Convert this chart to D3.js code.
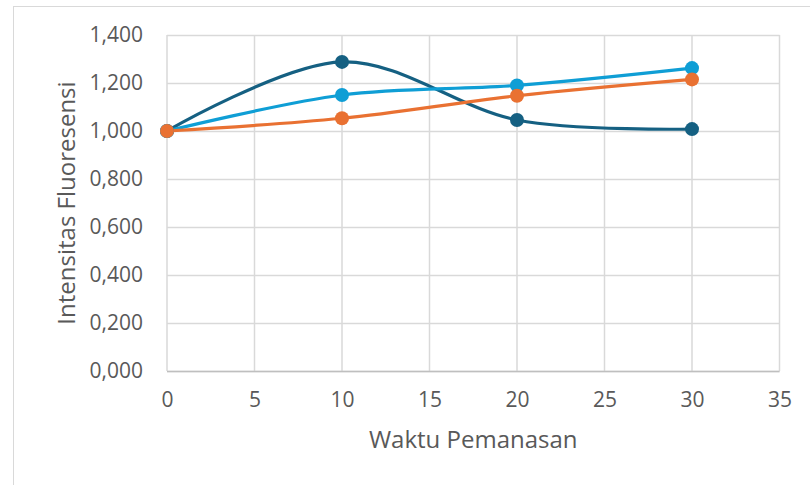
<!DOCTYPE html>
<html>
<head>
<meta charset="utf-8">
<script src="https://cdn.jsdelivr.net/npm/d3@7"></script>
<style>
  body { margin: 0; background: #fff; }
  svg { display: block; }
</style>
</head>
<body>
<div id="chart-area"></div>
<script>
const WIDTH = 810
const HEIGHT = 485
const MARGIN = { LEFT: 167, RIGHT: 30.5, TOP: 35, BOTTOM: 114 }
const PW = WIDTH - MARGIN.LEFT - MARGIN.RIGHT
const PH = HEIGHT - MARGIN.TOP - MARGIN.BOTTOM

// data
const waktu = [0, 10, 20, 30]
const seriesA = [1.000, 1.288, 1.046, 1.008]   // dark blue
const seriesB = [1.000, 1.150, 1.190, 1.262]   // light blue
const seriesC = [1.000, 1.053, 1.147, 1.215]   // orange
const xTicks = [0, 5, 10, 15, 20, 25, 30, 35]
const yTicks = [0, 0.2, 0.4, 0.6, 0.8, 1.0, 1.2, 1.4]

const series = [
  { values: seriesA, color: "#156082" },
  { values: seriesB, color: "#0F9ED5" },
  { values: seriesC, color: "#E97132" }
]

const FONT = "'Open Sans', sans-serif"
const TEXT = "#595959"
const GRID = "#d9d9d9"

const svg = d3.select("#chart-area").append("svg")
  .attr("width", WIDTH)
  .attr("height", HEIGHT)

// chart frame (runs past the right/bottom edges)
svg.append("rect")
  .attr("x", 13.5).attr("y", 6.5)
  .attr("width", 900).attr("height", 600)
  .attr("fill", "none")
  .attr("stroke", GRID)

const g = svg.append("g")
  .attr("transform", `translate(${MARGIN.LEFT}, ${MARGIN.TOP})`)

const x = d3.scaleLinear().domain([0, 35]).range([0, PW])
const y = d3.scaleLinear().domain([0, 1.4]).range([PH, 0])

// gridlines
g.append("g")
  .selectAll("line.h")
  .data(yTicks)
  .enter().append("line")
    .attr("x1", 0).attr("x2", PW)
    .attr("y1", d => Math.round(y(d)) + 0.5)
    .attr("y2", d => Math.round(y(d)) + 0.5)
    .attr("stroke", GRID).attr("stroke-width", 1.5)

g.append("g")
  .selectAll("line.v")
  .data(xTicks)
  .enter().append("line")
    .attr("x1", d => x(d)).attr("x2", d => x(d))
    .attr("y1", 0).attr("y2", PH)
    .attr("stroke", GRID).attr("stroke-width", 1.5)

// bottom axis line
g.append("line")
  .attr("x1", 0).attr("x2", PW)
  .attr("y1", PH + 0.5).attr("y2", PH + 0.5)
  .attr("stroke", "#bfbfbf").attr("stroke-width", 1.5)

// axes (labels only)
const xAxisCall = d3.axisBottom(x).tickValues(xTicks).tickSize(0).tickPadding(21)
  .tickFormat(d3.format("d"))
const xAxisGroup = g.append("g")
  .attr("transform", `translate(0, ${PH})`)
  .call(xAxisCall)

const yAxisCall = d3.axisLeft(y).tickValues(yTicks).tickSize(0).tickPadding(24)
  .tickFormat(d => d3.format(",.3f")(d).replace(".", ","))
const yAxisGroup = g.append("g").call(yAxisCall)

for (const ax of [xAxisGroup, yAxisGroup]) {
  ax.select(".domain").remove()
  ax.selectAll("text")
    .attr("font-family", FONT)
    .attr("font-size", "21px")
    .attr("fill", TEXT)
}

// axis titles
g.append("text")
  .attr("x", x(17.5)).attr("y", PH + 77)
  .attr("text-anchor", "middle")
  .attr("font-family", FONT).attr("font-size", "24px")
  .attr("fill", TEXT)
  .text("Waktu Pemanasan")

g.append("text")
  .attr("transform", "rotate(-90)")
  .attr("x", -(y(0.7))).attr("y", -92)
  .attr("text-anchor", "middle")
  .attr("font-family", FONT).attr("font-size", "24px")
  .attr("fill", TEXT)
  .text("Intensitas Fluoresensi")

// lines + markers
const line = d3.line()
  .x((d, i) => x(waktu[i]))
  .y(d => y(d))
  .curve(d3.curveCatmullRom.alpha(0))

series.forEach(s => {
  g.append("path")
    .datum(s.values)
    .attr("fill", "none")
    .attr("stroke", s.color)
    .attr("stroke-width", 3.2)
    .attr("stroke-linecap", "round")
    .attr("d", line)
})

series.forEach(s => {
  g.append("g")
    .selectAll("circle")
    .data(s.values)
    .enter().append("circle")
      .attr("cx", (d, i) => x(waktu[i]))
      .attr("cy", d => y(d))
      .attr("r", 7)
      .attr("fill", s.color)
})
</script>
</body>
</html>
